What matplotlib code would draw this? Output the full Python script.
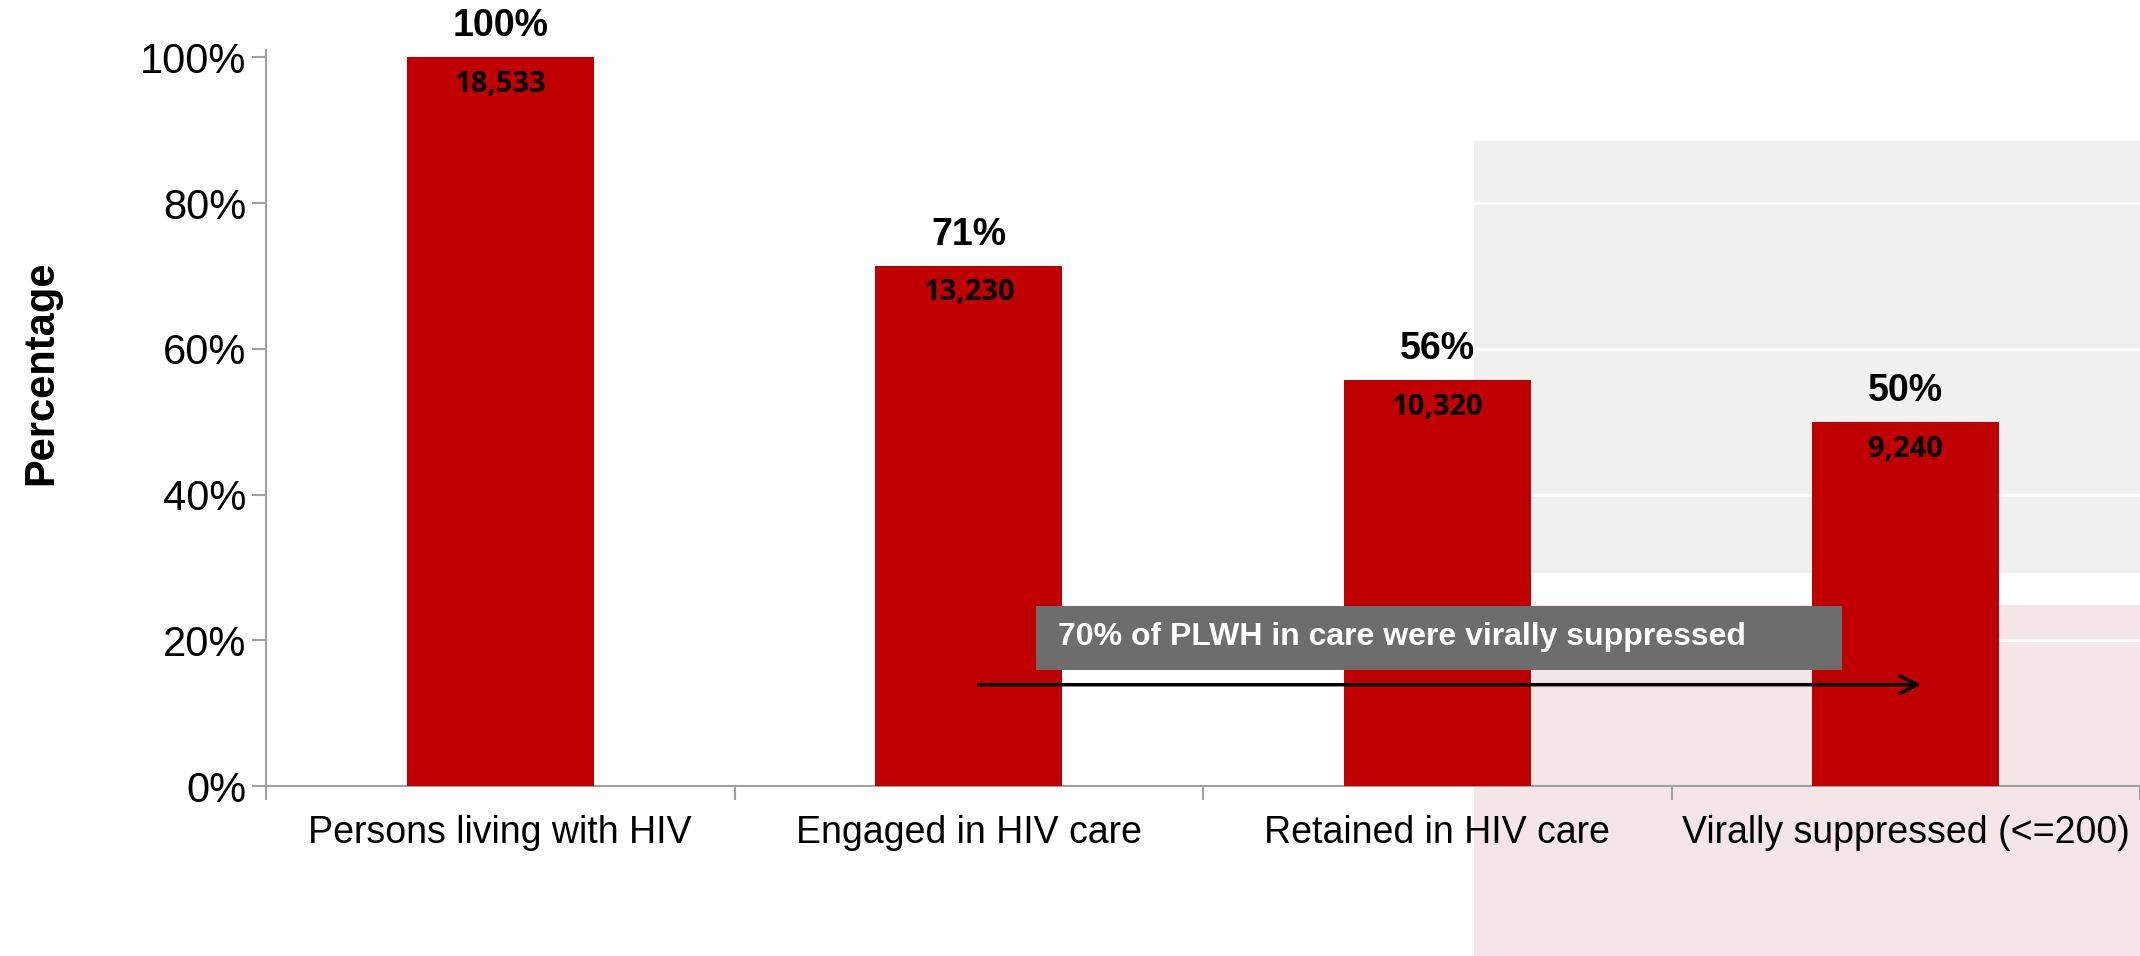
import matplotlib
matplotlib.use("Agg")
import matplotlib.pyplot as plt
from matplotlib.patches import Rectangle

categories = ["Persons living with HIV", "Engaged in HIV care", "Retained in HIV care", "Virally suppressed (<=200)"]
percent_values = [100, 71.4, 55.7, 49.9]
percent_labels = ["100%", "71%", "56%", "50%"]
count_labels = ["18,533", "13,230", "10,320", "9,240"]
y_ticks = [0, 20, 40, 60, 80, 100]
y_tick_labels = ["0%", "20%", "40%", "60%", "80%", "100%"]
annotation_text = "70% of PLWH in care were virally suppressed"

W, H = 2140, 956
fig = plt.figure(figsize=(W / 100, H / 100), dpi=100)
fig.patch.set_facecolor("white")

# background panels (slide decoration)
fig.add_artist(Rectangle((1474 / W, (H - 573) / H), 1 - 1474 / W, (573 - 141) / H,
                         transform=fig.transFigure, facecolor="#f0f0f0", edgecolor="none", zorder=-2))
fig.add_artist(Rectangle((1474 / W, 0), 1 - 1474 / W, (H - 605) / H,
                         transform=fig.transFigure, facecolor="#f4e6e6", edgecolor="none", zorder=-2))

ax = fig.add_axes([266 / W, (H - 786) / H, 1 - 266 / W, (786 - 50) / H])
ax.set_facecolor("none")

x = list(range(len(categories)))
bars = ax.bar(x, percent_values, width=0.4, color="#c00000", zorder=3)

ax.set_xlim(-0.5, len(categories) - 0.5)
ax.set_ylim(0, 101)

ax.set_yticks(y_ticks)
ax.set_yticklabels(y_tick_labels, fontsize=30, family="Liberation Sans")
ax.tick_params(axis="y", length=10, width=1.5, color="#a0a0a0", pad=4)

ax.set_xticks([i - 0.5 for i in range(len(categories) + 1)])
ax.set_xticklabels([])
ax.set_xticks(x, minor=True)
ax.set_xticklabels(categories, minor=True, fontsize=27, family="Liberation Sans")
ax.tick_params(axis="x", which="major", length=10, width=1.5, color="#a0a0a0")
ax.tick_params(axis="x", which="minor", length=0, pad=21)

for s in ["top", "right"]:
    ax.spines[s].set_visible(False)
for s in ["left", "bottom"]:
    ax.spines[s].set_color("#a0a0a0")
    ax.spines[s].set_linewidth(1.5)

ax.yaxis.grid(True, color="white", linewidth=2, zorder=1)
ax.set_axisbelow(True)

for xi, v, pl, cl in zip(x, percent_values, percent_labels, count_labels):
    ax.annotate(pl, (xi, v), xytext=(0, 13), textcoords="offset pixels",
                ha="center", va="bottom", fontsize=27, fontweight="bold",
                family="Liberation Sans", color="black", zorder=5, annotation_clip=False)
    ax.annotate(cl, (xi, v), xytext=(0, -27), textcoords="offset pixels",
                ha="center", va="center", fontsize=21, fontweight="bold",
                family="Open Sans", color="black", zorder=5)

# annotation box and arrow
ax.add_patch(Rectangle((1.144, 15.9), 2.864 - 1.144, 24.7 - 15.9,
                       facecolor="#6d6d6d", edgecolor="none", zorder=6))
ax.text(1.19, 20.4, annotation_text, ha="left", va="center", fontsize=23,
        fontweight="bold", family="Liberation Sans", color="white", zorder=7)
ax.annotate("", xy=(3.039, 13.9), xytext=(1.015, 13.9),
            arrowprops=dict(arrowstyle="->", color="black", lw=2.5, mutation_scale=32),
            zorder=7)

fig.text(41 / W, (H - 373) / H, "Percentage", rotation=90, ha="center", va="center",
         fontsize=30, fontweight="bold", family="Liberation Sans")

fig.savefig("out.png", dpi=100)
